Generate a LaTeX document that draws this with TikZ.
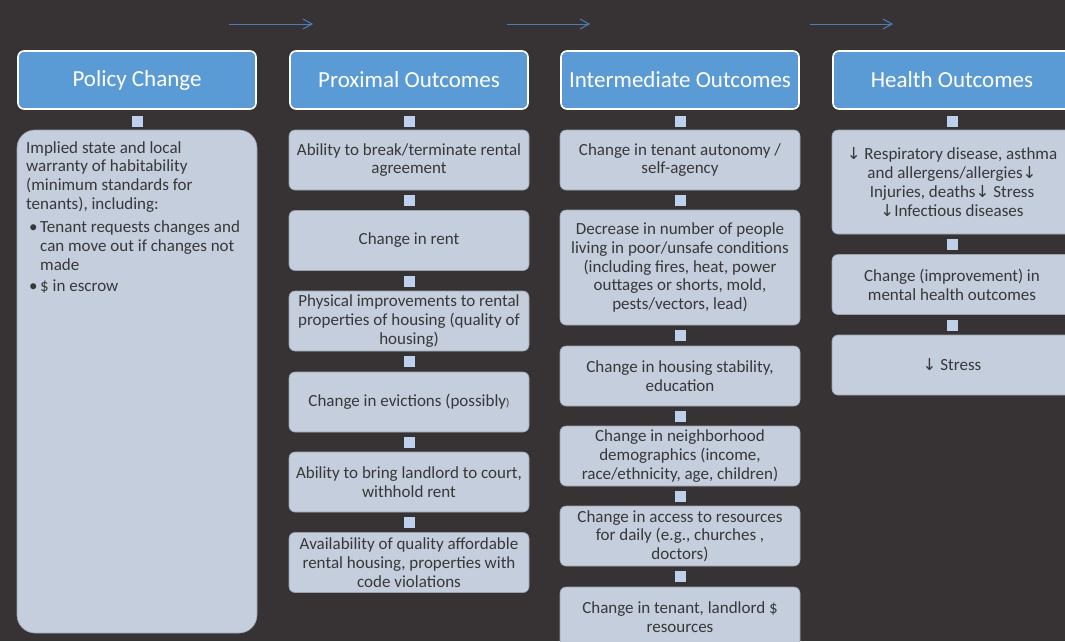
\documentclass[tikz,border=0pt]{standalone}
\usepackage{fontspec}
\setmainfont{Carlito}
\newfontfamily\arrowfont{DejaVu Sans}
\usetikzlibrary{calc, arrows.meta, positioning}

\definecolor{slate}{HTML}{373334}
\definecolor{headblue}{HTML}{5B9BD5}
\definecolor{boxgray}{HTML}{C5CEDD}
\definecolor{boxedge}{HTML}{9AA2AE}
\definecolor{linkblue}{HTML}{BDD2EA}
\definecolor{inkgray}{HTML}{383838}
\definecolor{arrowblue}{HTML}{4A7EBB}
\newcommand{\dn}{{\arrowfont\fontsize{16.5}{16.5}\selectfont ↓}}

\begin{document}
\begin{tikzpicture}[x=1pt, y=-1pt, >=latex]
		\tikzstyle{head} = [draw=white, line width=1.6pt, fill=headblue, rounded corners=6pt, minimum width=238pt, minimum height=58pt, inner sep=0pt, text=white, font=\fontsize{23}{26}\selectfont]
		\tikzstyle{item} = [draw=boxedge, line width=0.6pt, fill=boxgray, rounded corners=6pt, minimum width=240pt, minimum height=60pt, inner sep=0pt, text=inkgray, align=center, font=\fontsize{17}{18.7}\selectfont]
		\tikzstyle{link} = [fill=linkblue, minimum size=11pt, inner sep=0pt]
		\tikzstyle{flow} = [draw=arrowblue, line width=1pt, -{Straight Barb[length=9pt, width=10pt]}]

		\clip (0,0) rectangle (1065,641);
		\fill[slate] (0,0) rectangle (1065,641);

		% arrows along the top
		\coordinate (a1) at (229,24);	\coordinate (b1) at (313,24);
		\coordinate (a2) at (507,24);	\coordinate (b2) at (590,24);
		\coordinate (a3) at (810,24);	\coordinate (b3) at (893,24);
		\draw[flow] (a1) -- (b1);
		\draw[flow] (a2) -- (b2);
		\draw[flow] (a3) -- (b3);

		% headers
		\node[head]		at (137,80)		(pol)	{Policy Change};
		\node[head]		at (409,80)		(prox)	{Proximal Outcomes};
		\node[head]		at (680,80)		(inter)	{Intermediate Outcomes};
		\node[head]		at (952,80)		(hlth)	{Health Outcomes};

		% policy column
		\node[link]		at (137,121)	(pl1)	{};
		\node[item, rounded corners=18pt, minimum height=503pt]	at (137,381.5)	(pbox)	{};
		\node[anchor=north west, inner sep=0pt, align=left, text=inkgray, font=\fontsize{17}{18.7}\selectfont]	at (26,141)	(ptext)
			{Implied state and local\\
			warranty of habitability\\
			(minimum standards for\\
			tenants), including:\\[5pt]
			\hspace*{3pt}\makebox[11pt][l]{\textbullet}Tenant requests changes and\\
			\hspace*{14pt}can move out if changes not\\
			\hspace*{14pt}made\\[3pt]
			\hspace*{3pt}\makebox[11pt][l]{\textbullet}\$ in escrow};

		% proximal column
		\node[link]		at (409,121)	(xl1)	{};
		\node[item]		at (409,160)	(x1)	{Ability to break/terminate rental\\agreement};
		\node[link]		at (409,200.5)	(xl2)	{};
		\node[item]		at (409,240.5)	(x2)	{Change in rent};
		\node[link]		at (409,281)	(xl3)	{};
		\node[item]		at (409,321)	(x3)	{Physical improvements to rental\\properties of housing (quality of\\housing)};
		\node[link]		at (409,361.5)	(xl4)	{};
		\node[item]		at (409,402)	(x4)	{Change in evictions (possibly{\fontsize{11}{11}\selectfont)}};
		\node[link]		at (409,442)	(xl5)	{};
		\node[item]		at (409,482)	(x5)	{Ability to bring landlord to court,\\withhold rent};
		\node[link]		at (409,522)	(xl6)	{};
		\node[item]		at (409,562.5)	(x6)	{Availability of quality affordable\\rental housing, properties with\\code violations};

		% intermediate column
		\node[link]		at (680,121)	(il1)	{};
		\node[item]		at (680,160)	(i1)	{Change in tenant autonomy /\\self-agency};
		\node[link]		at (680,200)	(il2)	{};
		\node[item, minimum height=115pt]	at (680,267.5)	(i2)	{Decrease in number of people\\living in poor/unsafe conditions\\(including fires, heat, power\\outtages or shorts, mold,\\pests/vectors, lead)};
		\node[link]		at (680,335.5)	(il3)	{};
		\node[item]		at (680,376)	(i3)	{Change in housing stability,\\education};
		\node[link]		at (680,416)	(il4)	{};
		\node[item]		at (680,456)	(i4)	{Change in neighborhood\\demographics (income,\\race/ethnicity, age, children)};
		\node[link]		at (680,496)	(il5)	{};
		\node[item]		at (680,536)	(i5)	{Change in access to resources\\for daily (e.g., churches ,\\doctors)};
		\node[link]		at (680,576.5)	(il6)	{};
		\node[item]		at (680,617)	(i6)	{Change in tenant, landlord \$\\resources};

		% health column
		\node[link]		at (952,121)	(hl1)	{};
		\node[item, minimum height=104pt]	at (952,182)	(h1)	{\dn{} Respiratory disease, asthma\\and allergens/allergies\dn\\Injuries, deaths\dn{} Stress\\\dn Infectious diseases};
		\node[link]		at (952,244)	(hl2)	{};
		\node[item]		at (952,284.5)	(h2)	{Change (improvement) in\\mental health outcomes};
		\node[link]		at (952,325)	(hl3)	{};
		\node[item]		at (952,365)	(h3)	{\dn{} Stress};
\end{tikzpicture}
\end{document}
